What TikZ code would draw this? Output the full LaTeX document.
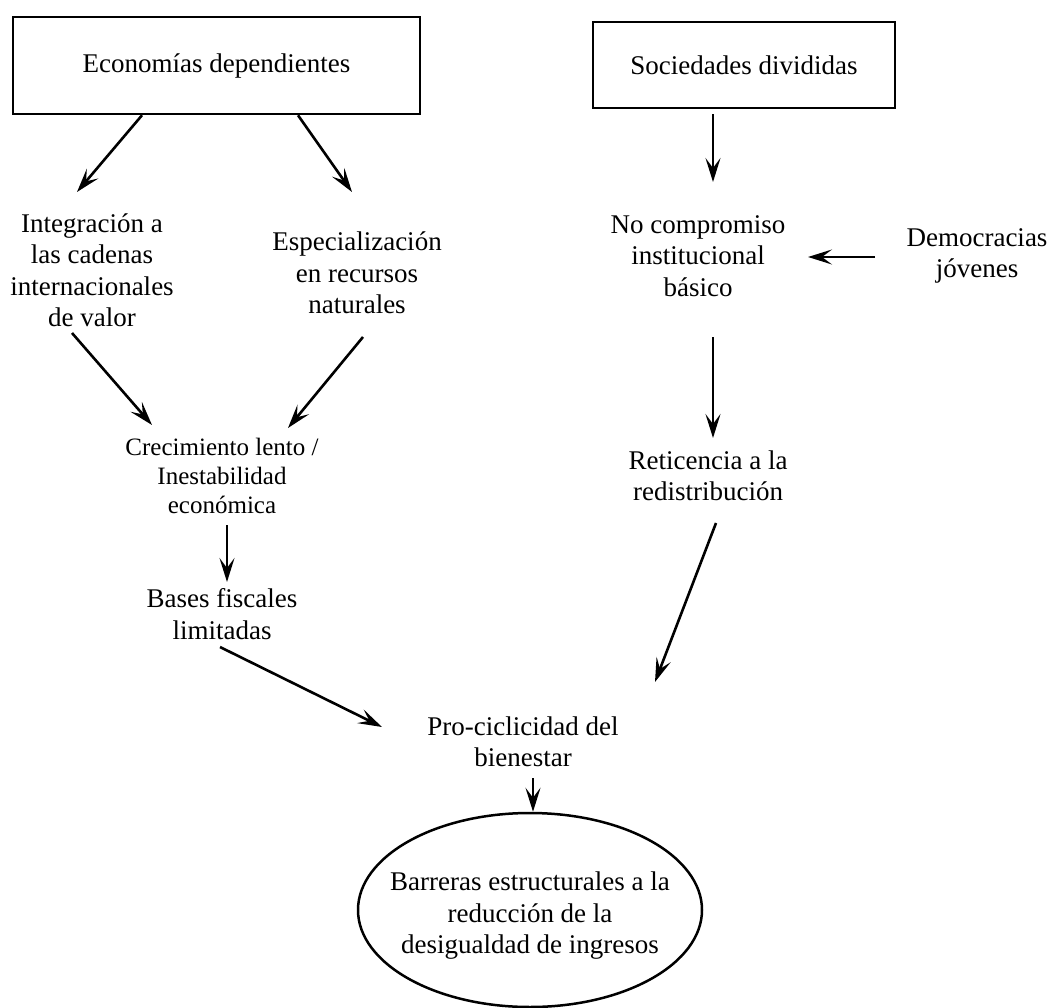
\documentclass[tikz,border=0pt]{standalone}
\usepackage{fontspec}
\setmainfont{Liberation Serif}
\usepackage{tikz}
\usetikzlibrary{arrows.meta,positioning,calc,shapes.geometric}

\begin{document}
\begin{tikzpicture}[x=1pt,y=-1pt,
  txt/.style={align=center,inner sep=0pt,font=\fontsize{27}{31.5}\selectfont},
  caja/.style={draw,line width=2.5pt,inner sep=0pt},
  flecha/.style={line width=2.6pt,-{Stealth[length=24pt,width=15pt,inset=10pt]}}]
  \useasboundingbox (0,0) rectangle (1052,1008);
  % cajas de arriba
  \node[caja,txt,minimum width=407pt,minimum height=97pt] (eco) at (216.5,65.5) {Economías dependientes};
  \node[caja,txt,minimum width=302pt,minimum height=86pt] (soc) at (744,65) {Sociedades divididas};
  % rama izquierda
  \node[txt] (integ) at (92,270) {Integración a\\las cadenas\\internacionales\\de valor};
  \node[txt] (espec) at (357,273) {Especialización\\en recursos\\naturales};
  \node[txt,font=\fontsize{25}{29}\selectfont] (crec) at (222,476) {Crecimiento lento /\\Inestabilidad\\económica};
  \node[txt] (bases) at (222,614) {Bases fiscales\\limitadas};
  % rama derecha
  \node[txt] (nocomp) at (698,256) {No compromiso\\institucional\\básico};
  \node[txt] (demo) at (977,256) {Democracias\\jóvenes};
  \node[txt] (retic) at (708,476) {Reticencia a la\\redistribución};
  % abajo
  \node[txt] (pro) at (523,742) {Pro-ciclicidad del\\bienestar};
  \node[draw,ellipse,line width=2.5pt,inner sep=0pt,minimum width=344pt,minimum height=194pt] (barr) at (530,910) {};
  \node[txt] (barrtxt) at (530,916) {Barreras estructurales a la\\reducción de la\\desigualdad de ingresos};
  % flechas
  \draw[flecha] ([xshift=-74.5pt]eco.south) -- ([xshift=-15pt,yshift=78pt]integ.center);
  \draw[flecha] ([xshift=81.5pt]eco.south) -- ([xshift=-5pt,yshift=81pt]espec.center);
  \draw[flecha] ([xshift=-31pt,yshift=-5pt]soc.south) -- ([xshift=15pt,yshift=74pt]nocomp.center);
  \draw[flecha] ([xshift=-102pt,yshift=-1pt]demo.center) -- ([xshift=110pt,yshift=-1pt]nocomp.center);
  \draw[flecha] ([xshift=-20pt,yshift=-63pt]integ.center) -- ([xshift=-70pt,yshift=51pt]crec.center);
  \draw[flecha] ([xshift=6pt,yshift=-64pt]espec.center) -- ([xshift=66pt,yshift=48pt]crec.center);
  \draw[flecha] ([xshift=5pt,yshift=-49pt]crec.center) -- ([xshift=5pt,yshift=32pt]bases.center);
  \draw[flecha] ([xshift=-2pt,yshift=-33pt]bases.center) -- ([xshift=-141pt,yshift=15pt]pro.center);
  \draw[flecha] ([xshift=15pt,yshift=-81pt]nocomp.center) -- ([xshift=5pt,yshift=38pt]retic.center);
  \draw[flecha] ([xshift=8pt,yshift=-47pt]retic.center) -- ([xshift=132pt,yshift=60pt]pro.center);
  \draw[flecha] ([xshift=10pt,yshift=-36pt]pro.center) -- ([xshift=3pt]barr.north);
\end{tikzpicture}
\end{document}
